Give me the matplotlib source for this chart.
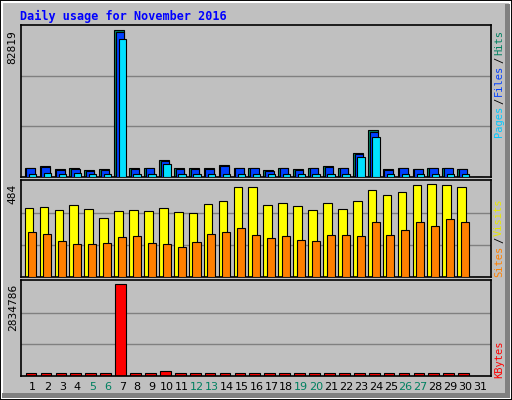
import matplotlib
matplotlib.use("Agg")
import matplotlib.pyplot as plt
from matplotlib.patches import Rectangle

days = list(range(1, 32))
hits = [5240, 6020, 4330, 4900, 3770, 4330, 82819, 4900, 5240, 9400, 4900, 4900, 4900, 6590, 5240,
        5240, 3770, 5240, 4330, 5240, 6020, 5240, 13340, 26290, 4330, 5240, 4670, 5240, 5240, 4670, 0]
files = [5050, 5800, 4150, 4700, 3600, 4150, 81500, 4700, 5050, 9100, 4700, 4700, 4700, 6350, 5050,
         5050, 3600, 5050, 4150, 5050, 5800, 5050, 12900, 25500, 4150, 5050, 4500, 5050, 5050, 4500, 0]
pages = [1860, 2250, 1860, 2250, 1860, 1860, 77700, 1860, 1860, 7150, 1860, 1860, 1860, 1860, 1860,
         1860, 1860, 1860, 1860, 1860, 1860, 1860, 11090, 22350, 1860, 1860, 1860, 1860, 1860, 1860, 0]
visits = [356, 362, 346, 372, 351, 304, 341, 346, 341, 356, 335, 330, 377, 393, 466,
          466, 372, 383, 367, 346, 383, 351, 393, 451, 425, 440, 477, 484, 477, 466, 0]
sites = [231, 225, 189, 173, 173, 178, 210, 215, 178, 173, 157, 183, 225, 231, 252,
         220, 204, 215, 194, 189, 220, 220, 215, 283, 220, 246, 283, 267, 299, 283, 0]
kbytes = [83000, 83000, 83000, 83000, 83000, 83000, 2834786, 83000, 83000, 146000, 83000, 83000, 83000, 83000, 83000,
          83000, 83000, 83000, 83000, 83000, 83000, 83000, 83000, 83000, 83000, 83000, 83000, 83000, 83000, 83000, 0]
weekend = {5, 6, 12, 13, 19, 20, 26, 27}
title = "Daily usage for November 2016"

W, H = 512, 400
fig = plt.figure(figsize=(W / 100, H / 100), dpi=100)
fig.patch.set_facecolor("#C0C0C0")
MONO = "DejaVu Sans Mono"

def px_ax(x0, y0, x1, y1):
    return fig.add_axes([x0 / W, 1 - y1 / H, (x1 - x0) / W, (y1 - y0) / H])

# 3D frame
fig.patches.append(Rectangle((0, 0), 1, 1, transform=fig.transFigure, fill=False,
                             edgecolor="black", lw=1.5))
fig.patches.append(Rectangle((2 / W, 2 / H), 1 - 4 / W, 1 - 4 / H, transform=fig.transFigure,
                             fill=False, edgecolor="white", lw=1.5))
fig.patches.append(Rectangle((1 - 7 / W, 2 / H), 5 / W, 1 - 6 / H, transform=fig.transFigure,
                             color="#808080", lw=0))
fig.patches.append(Rectangle((2 / W, 2 / H), 1 - 4 / W, 5 / H, transform=fig.transFigure,
                             color="#808080", lw=0))

XL = (0.18, 31.72)

def setup(ax, top, label):
    ax.set_facecolor("#C0C0C0")
    ax.set_xlim(*XL)
    ymax = top * 1.035
    ax.set_ylim(0, ymax)
    for g in (ymax / 3, 2 * ymax / 3):
        ax.axhline(g, color="#808080", lw=1, zorder=0)
    ax.set_xticks([])
    ax.set_yticks([top])
    ax.set_yticklabels([label], rotation=90, va="top", family=MONO, fontsize=8)
    ax.tick_params(axis="y", length=0, pad=2)
    for s in ax.spines.values():
        s.set_color("black")
        s.set_linewidth(1.2)

ax1 = px_ax(20.5, 25, 491, 177)
setup(ax1, max(hits), str(max(hits)))
for i, d in enumerate(days):
    ax1.bar(d - 0.54, hits[i], width=0.67, align="edge", color="#008060", edgecolor="black", lw=0.8, zorder=2)
    ax1.bar(d - 0.42, files[i], width=0.56, align="edge", color="#0040FF", edgecolor="black", lw=0.8, zorder=3)
    ax1.bar(d - 0.25, pages[i], width=0.5, align="edge", color="#00E0FF", edgecolor="black", lw=0.8, zorder=4)

ax2 = px_ax(20.5, 180, 491, 277)
setup(ax2, max(visits), str(max(visits)))
ax2.set_ylim(0, max(visits) * 1.04)
for i, d in enumerate(days):
    ax2.bar(d - 0.54, visits[i], width=0.58, align="edge", color="#FFFF00", edgecolor="black", lw=0.8, zorder=2)
    ax2.bar(d - 0.29, sites[i], width=0.54, align="edge", color="#FF8000", edgecolor="black", lw=0.8, zorder=3)

ax3 = px_ax(20.5, 280, 491, 376)
setup(ax3, max(kbytes), str(max(kbytes)))
ax3.set_ylim(0, max(kbytes) * 1.045)
for i, d in enumerate(days):
    ax3.bar(d - 0.47, kbytes[i], width=0.72, align="edge", color="#FF0000", edgecolor="black", lw=0.8, zorder=2)
    ax3.text(d, -0.06, str(d), transform=ax3.get_xaxis_transform(), ha="center", va="top",
             fontsize=8, family="DejaVu Sans",
             color="#008060" if d in weekend else "black")

fig.text(20 / W, 1 - 16 / H, title, family=MONO, fontweight="bold", fontsize=8.5,
         color="#0000FF", va="center", ha="left")

def side(pieces, ytop):
    y = ytop
    for txt, col in pieces:
        t = fig.text(499 / W, 1 - y / H, txt, rotation=90, va="top", ha="center",
                     family=MONO, fontsize=7.5, color=col)
        y += len(txt) * 6.2 + 2

side([("Hits", "#008060"), ("/", "black"), ("Files", "#0040FF"), ("/", "black"), ("Pages", "#00C8FF")], 30)
side([("Visits", "#E8E800"), ("/", "black"), ("Sites", "#FF8000")], 198)
side([("KBytes", "#FF0000")], 341)

fig.savefig("out.png", dpi=100, facecolor=fig.get_facecolor())
